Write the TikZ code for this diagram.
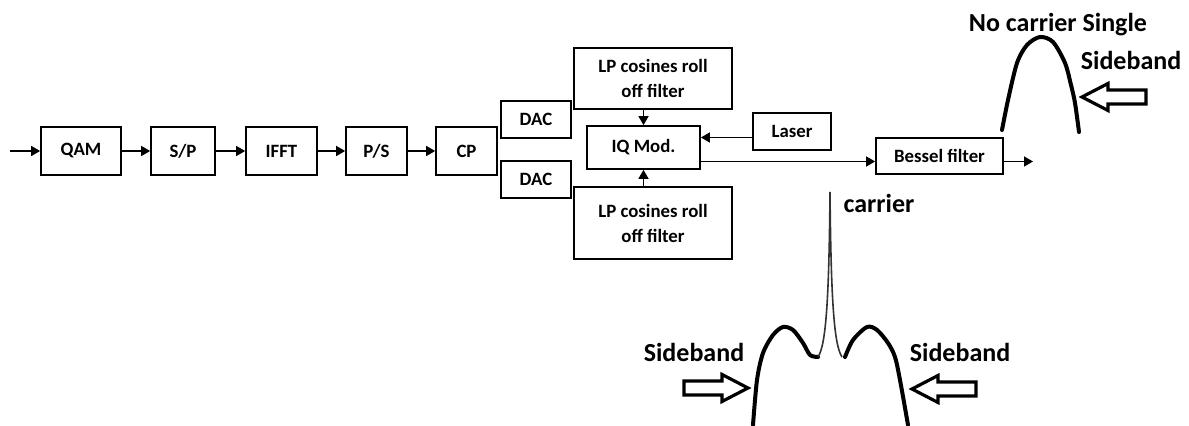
\documentclass[tikz,border=0pt]{standalone}
\usepackage{fontspec}
\setmainfont{Carlito}
\usetikzlibrary{arrows.meta}
\tikzset{
  blk/.style={draw,line width=0.85pt,inner sep=1pt,align=center,
    font=\fontsize{9.4}{12.5}\selectfont\bfseries},
  arr/.style={line width=0.75pt,-{Triangle[length=4.5pt,width=5pt]}},
  lbl/.style={font=\fontsize{13}{15}\selectfont\bfseries,inner sep=0pt,anchor=base},
  band/.style={line width=2pt,line cap=round,line join=round},
  hollow/.pic={\draw[line width=1.6pt,line join=miter] (0,0) -- (-26,-13.5) -- (-26,-7)
    -- (-64,-7) -- (-64,7) -- (-26,7) -- (-26,13.5) -- cycle;}
}
\begin{document}
\begin{tikzpicture}[x=0.5pt,y=-0.5pt]
  \useasboundingbox (0,0) rectangle (1189,426);

  % transmitter chain
  \node[blk,minimum width=40pt,minimum height=24pt] (qam) at (81,151) {QAM};
  \node[blk,minimum width=32pt,minimum height=24pt] (sp) at (183,151) {S/P};
  \node[blk,minimum width=35.5pt,minimum height=24pt] (ifft) at (281.5,151) {IFFT};
  \node[blk,minimum width=30.5pt,minimum height=24pt] (ps) at (376.5,151) {P/S};
  \node[blk,minimum width=30.5pt,minimum height=24pt] (cp) at (466.5,151) {CP};
  \node[blk,minimum width=35pt,minimum height=18.5pt] (dacI) at (536,119.5) {DAC};
  \node[blk,minimum width=35pt,minimum height=18.5pt] (dacQ) at (536,179.5) {DAC};

  % IQ modulator
  \node[blk,minimum width=79pt,minimum height=30.5pt] (lpI) at (653,78.5) {LP cosines roll\\off filter};
  \node[blk,minimum width=56.5pt,minimum height=21.5pt] (iq) at (643.5,147.5) {IQ Mod.};
  \node[blk,minimum width=39pt,minimum height=18.5pt] (laser) at (792,131.5) {Laser};
  \node[blk,minimum width=79pt,minimum height=36pt] (lpQ) at (653,223) {LP cosines roll\\off filter};
  \node[blk,minimum width=63.5pt,minimum height=18pt] (bessel) at (939.5,156) {Bessel filter};

  % connectors
  \coordinate (in) at (10,151);
  \coordinate (out) at (1033,161.5);
  \draw[arr] (in) -- (qam);
  \draw[arr] (qam) -- (sp);
  \draw[arr] (sp) -- (ifft);
  \draw[arr] (ifft) -- (ps);
  \draw[arr] (ps) -- (cp);
  \draw[arr] (lpI.south -| iq.north) -- (iq.north);
  \draw[arr] (lpQ.north -| iq.south) -- (iq.south);
  \draw[arr] ([yshift=-3pt]laser.west) -- ([yshift=-3pt]laser.west -| iq.east);
  \draw[arr] ([yshift=-7pt]iq.east) -- ([yshift=-7pt]iq.east -| bessel.west);
  \draw[arr] (bessel.east |- out) -- (out);

  % single sideband spectrum
  \draw[band] plot[smooth] coordinates {(1002,130) (1008,100) (1017,63) (1027,45) (1040,37)
    (1053,42) (1065,63) (1071,85) (1075,103) (1079,132)};
  \pic at (1082,97) [rotate=180] {hollow};
  \node[lbl] (ssbtitle) at (1058,32) {No carrier Single};
  \node[lbl] (ssbband) at (1131,70) {Sideband};

  % double sideband spectrum with carrier
  \draw[band] plot[smooth] coordinates {(753,425) (757,380) (763,353) (773,335) (783,327)
    (793,330) (803,343) (810,355) (818,357)};
  \draw[band] plot[smooth] coordinates {(845,357) (853,340) (867,327) (877,330) (888,343)
    (895,357) (900,380) (908,425)};
  \draw[line width=0.8pt,black!80] (818,357) .. controls (826,345) and (829,300) .. (830,192)
    .. controls (831,300) and (834,345) .. (842,357);
  \node[lbl] (carrier) at (879,213) {carrier};
  \node[lbl] (lsb) at (694,362) {Sideband};
  \node[lbl] (usb) at (960,362) {Sideband};
  \pic at (748,388) {hollow};
  \pic at (912,389) [rotate=180] {hollow};
\end{tikzpicture}
\end{document}
